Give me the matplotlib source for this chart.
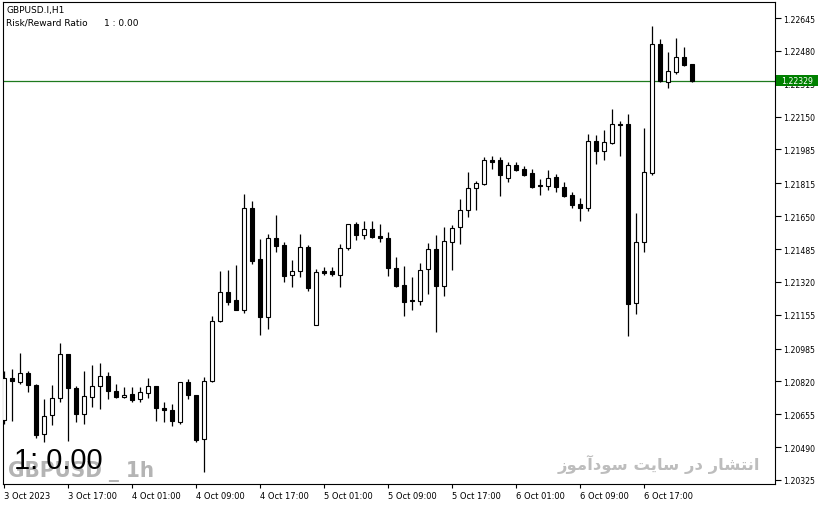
import matplotlib
matplotlib.use('Agg')  # no display
import matplotlib.pyplot as plt
from matplotlib.patches import Rectangle

W, H = 821, 506

# GBPUSD.I H1 bars, 3 Oct 2023 09:00 .. 6 Oct 2023 23:00
opens = [1.20628, 1.20836, 1.20819, 1.20861, 1.20803, 1.20556, 1.20651, 1.20735, 1.20958, 1.20786,
         1.20656, 1.20740, 1.20799, 1.20846, 1.20770, 1.20740, 1.20757, 1.20732, 1.20762, 1.20796,
         1.20687, 1.20677, 1.20615, 1.20816, 1.20752, 1.20531, 1.20824, 1.21125, 1.21268, 1.21229,
         1.21180, 1.21691, 1.21435, 1.21142, 1.21539, 1.21505, 1.21353, 1.21373, 1.21494, 1.21103,
         1.21373, 1.21375, 1.21356, 1.21489, 1.21610, 1.21557, 1.21586, 1.21550, 1.21540, 1.21388,
         1.21303, 1.21229, 1.21225, 1.21383, 1.21485, 1.21301, 1.21522, 1.21594, 1.21679, 1.21790,
         1.21813, 1.21932, 1.21932, 1.21840, 1.21907, 1.21887, 1.21867, 1.21806, 1.21803, 1.21845,
         1.21795, 1.21755, 1.21710, 1.21690, 1.22026, 1.21976, 1.22019, 1.22111, 1.22111, 1.21214,
         1.21519, 1.21867, 1.22515, 1.22325, 1.22376, 1.22448, 1.22414]
highs = [1.20874, 1.20882, 1.20963, 1.20874, 1.20805, 1.20732, 1.20802, 1.21013, 1.20960, 1.20799,
         1.20874, 1.20903, 1.20913, 1.20869, 1.20807, 1.20794, 1.20794, 1.20794, 1.20837, 1.20797,
         1.20715, 1.20707, 1.20818, 1.20832, 1.20754, 1.20841, 1.21150, 1.21376, 1.21380, 1.21405,
         1.21761, 1.21725, 1.21535, 1.21560, 1.21656, 1.21519, 1.21430, 1.21560, 1.21505, 1.21385,
         1.21393, 1.21393, 1.21510, 1.21611, 1.21619, 1.21624, 1.21624, 1.21611, 1.21572, 1.21445,
         1.21401, 1.21343, 1.21415, 1.21515, 1.21555, 1.21596, 1.21606, 1.21736, 1.21870, 1.21828,
         1.21947, 1.21954, 1.21946, 1.21924, 1.21920, 1.21903, 1.21887, 1.21837, 1.21882, 1.21862,
         1.21820, 1.21773, 1.21741, 1.22063, 1.22058, 1.22082, 1.22188, 1.22128, 1.22163, 1.21666,
         1.22093, 1.22607, 1.22540, 1.22476, 1.22545, 1.22500, 1.22415]
lows = [1.20606, 1.20623, 1.20807, 1.20765, 1.20536, 1.20514, 1.20601, 1.20715, 1.20522, 1.20615,
        1.20606, 1.20690, 1.20682, 1.20732, 1.20735, 1.20738, 1.20718, 1.20715, 1.20735, 1.20623,
        1.20615, 1.20595, 1.20606, 1.20732, 1.20517, 1.20367, 1.20817, 1.21117, 1.21204, 1.21179,
        1.21164, 1.21410, 1.21055, 1.21083, 1.21469, 1.21321, 1.21296, 1.21343, 1.21276, 1.21102,
        1.21356, 1.21348, 1.21296, 1.21482, 1.21532, 1.21535, 1.21540, 1.21522, 1.21351, 1.21296,
        1.21150, 1.21180, 1.21205, 1.21259, 1.21067, 1.21251, 1.21381, 1.21512, 1.21647, 1.21682,
        1.21808, 1.21887, 1.21753, 1.21823, 1.21878, 1.21853, 1.21793, 1.21756, 1.21781, 1.21773,
        1.21748, 1.21693, 1.21627, 1.21677, 1.21914, 1.21933, 1.22012, 1.21954, 1.21050, 1.21159,
        1.21472, 1.21857, 1.22322, 1.22294, 1.22364, 1.22404, 1.22324]
closes = [1.20836, 1.20821, 1.20862, 1.20802, 1.20553, 1.20645, 1.20735, 1.20958, 1.20786, 1.20656,
          1.20745, 1.20799, 1.20846, 1.20773, 1.20740, 1.20753, 1.20728, 1.20765, 1.20796, 1.20685,
          1.20675, 1.20620, 1.20816, 1.20752, 1.20527, 1.20824, 1.21125, 1.21268, 1.21220, 1.21180,
          1.21691, 1.21426, 1.21142, 1.21539, 1.21502, 1.21351, 1.21373, 1.21494, 1.21288, 1.21368,
          1.21365, 1.21358, 1.21489, 1.21610, 1.21557, 1.21586, 1.21547, 1.21539, 1.21388, 1.21301,
          1.21220, 1.21222, 1.21381, 1.21484, 1.21301, 1.21524, 1.21591, 1.21681, 1.21790, 1.21815,
          1.21931, 1.21924, 1.21858, 1.21905, 1.21883, 1.21858, 1.21798, 1.21800, 1.21840, 1.21798,
          1.21753, 1.21708, 1.21693, 1.22026, 1.21976, 1.22021, 1.22111, 1.22110, 1.21209, 1.21519,
          1.21870, 1.22515, 1.22329, 1.22377, 1.22448, 1.22409, 1.22329]

x_labels = ["3 Oct 2023", "3 Oct 17:00", "4 Oct 01:00", "4 Oct 09:00", "4 Oct 17:00", "5 Oct 01:00",
            "5 Oct 09:00", "5 Oct 17:00", "6 Oct 01:00", "6 Oct 09:00", "6 Oct 17:00"]
y_ticks = [1.22645, 1.22480, 1.22315, 1.22150, 1.21985, 1.21815, 1.21650, 1.21485,
           1.21320, 1.21155, 1.20985, 1.20820, 1.20655, 1.20490, 1.20325]
bid = 1.22329

fig = plt.figure(figsize=(W / 100, H / 100), dpi=100)
ax = fig.add_axes([3 / W, 1 - 485 / H, 772 / W, 482 / H])

# candles
xs = list(range(len(opens)))
ax.vlines(xs, lows, highs, color='black', linewidth=0.9, zorder=2)
for i in xs:
    o, c = opens[i], closes[i]
    bottom = min(o, c)
    height = max(abs(c - o), 0.000008)
    face = 'white' if c >= o else 'black'
    ax.bar(i, height, bottom=bottom, width=0.5, facecolor=face, edgecolor='black',
           linewidth=0.8, zorder=3)

ax.axhline(bid, color='#1d7a1d', linewidth=0.9, zorder=1)

ax.set_xlim(-0.125, 96.375)
ax.set_ylim(1.203049, 1.227255)

ax.set_xticks(list(range(0, 8 * len(x_labels), 8)))
ax.set_xticklabels(x_labels, fontsize=6)
for lab in ax.get_xticklabels():
    lab.set_horizontalalignment('left')
ax.tick_params(axis='x', length=3, width=0.8, pad=2, direction='out')

ax.yaxis.tick_right()
ax.set_yticks(y_ticks)
ax.set_yticklabels([f"{v:.5f}" for v in y_ticks], fontsize=5.6)
ax.tick_params(axis='y', length=4, width=0.8, pad=2, direction='out')
for s in ax.spines.values():
    s.set_linewidth(0.8)

# bid label on the price scale
bid_y = ax.transData.transform((0, bid))[1] / H
fig.patches.append(Rectangle((776 / W, bid_y - 5.5 / H), 42 / W, 11 / H, transform=fig.transFigure,
                             facecolor='#008000', edgecolor='none', zorder=10))
fig.text(797 / W, bid_y, f"{bid:.5f}", fontsize=5.6, color='white', ha='center', va='center',
         zorder=11)

# top-left info
fig.text(6 / W, 1 - 10 / H, "GBPUSD.I,H1", fontsize=6.5, va='center', ha='left')
fig.text(6 / W, 1 - 23 / H, "Risk/Reward Ratio", fontsize=6.5, va='center', ha='left')
fig.text(104 / W, 1 - 23 / H, "1 : 0.00", fontsize=6.5, va='center', ha='left')

# watermarks
fig.text(8 / W, 1 - 477 / H, "GBPUSD _ 1h", fontsize=16, color='#b4b4b4', weight='bold',
         stretch='condensed', family=['DejaVu Sans'], ha='left', va='baseline', zorder=0)
fig.text(14 / W, 1 - 469 / H, "1: 0.00", fontsize=21, color='black',
         family=['Liberation Sans', 'DejaVu Sans'], ha='left', va='baseline', zorder=1)
persian = "\ufeaf\ufeee\ufee3\ufe81\ufea9\ufeee\ufeb3 \ufe96\ufef3\ufe8e\ufeb3 \ufead\ufea9 \ufead\ufe8e\ufeb8\ufe98\ufee7\ufe8d"
fig.text(760 / W, 1 - 470 / H, persian, fontsize=11.8, color='#bdbdbd', weight='bold',
         ha='right', va='baseline')

plt.savefig('out.png', dpi=100)
plt.close(fig)
